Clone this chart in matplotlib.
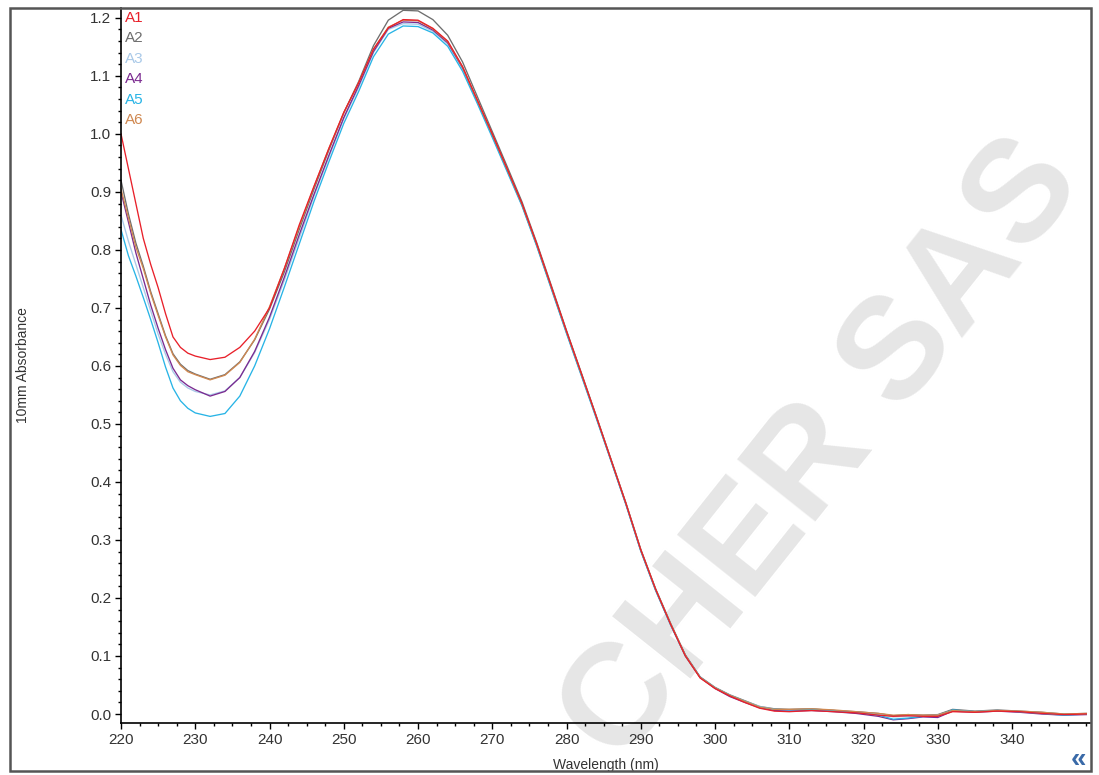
import matplotlib
matplotlib.use("Agg")
import matplotlib.pyplot as plt
from matplotlib.ticker import MultipleLocator, FormatStrFormatter
from matplotlib.patches import Rectangle

plt.rcParams['font.family'] = ['Liberation Sans Narrow', 'Liberation Sans', 'DejaVu Sans']

# wavelength grid (nm)
wavelength = [220, 221, 222, 223, 224, 225, 226, 227, 228, 229, 230,
              232, 234, 236, 238, 240, 242, 244, 246, 248, 250, 252, 254, 256, 258,
              260, 262, 264, 266, 268, 270, 272, 274, 276, 278, 280, 282, 284, 286,
              288, 290, 292, 294, 296, 298, 300, 302, 304, 306, 308, 310,
              313, 316, 319, 322, 324, 326, 328, 330, 332, 335, 338, 341, 344, 347, 350]

a1 = [1.000, 0.940, 0.880, 0.820, 0.775, 0.735, 0.690, 0.650, 0.632, 0.622, 0.617,
      0.611, 0.615, 0.632, 0.660, 0.700, 0.768, 0.843, 0.910, 0.975, 1.037, 1.088, 1.146, 1.183, 1.197,
      1.196, 1.182, 1.160, 1.116, 1.058, 1.000, 0.940, 0.880, 0.810, 0.735, 0.660, 0.587, 0.513, 0.438,
      0.363, 0.283, 0.215, 0.155, 0.100, 0.062, 0.044, 0.031, 0.020, 0.010, 0.005, 0.004,
      0.006, 0.004, 0.002, -0.002, -0.004, -0.003, -0.004, -0.004, 0.004, 0.003, 0.005, 0.004, 0.001, -0.001, 0.000]

a2 = [0.920, 0.862, 0.812, 0.772, 0.728, 0.690, 0.652, 0.621, 0.603, 0.592, 0.586,
      0.577, 0.585, 0.607, 0.645, 0.698, 0.762, 0.835, 0.905, 0.972, 1.036, 1.090, 1.152, 1.196, 1.213,
      1.212, 1.197, 1.170, 1.124, 1.064, 1.004, 0.944, 0.883, 0.812, 0.737, 0.661, 0.588, 0.514, 0.439,
      0.364, 0.284, 0.216, 0.157, 0.102, 0.064, 0.046, 0.033, 0.023, 0.013, 0.009, 0.008,
      0.009, 0.006, 0.004, 0.001, -0.003, -0.001, -0.002, -0.001, 0.008, 0.005, 0.007, 0.005, 0.003, 0.000, 0.001]

a3 = [0.860, 0.815, 0.775, 0.735, 0.695, 0.655, 0.620, 0.590, 0.572, 0.562, 0.556,
      0.550, 0.557, 0.580, 0.623, 0.680, 0.748, 0.820, 0.893, 0.960, 1.026, 1.080, 1.140, 1.180, 1.190,
      1.189, 1.177, 1.155, 1.112, 1.054, 0.996, 0.937, 0.877, 0.807, 0.732, 0.657, 0.584, 0.511, 0.436,
      0.361, 0.281, 0.213, 0.154, 0.100, 0.063, 0.045, 0.032, 0.022, 0.013, 0.008, 0.007,
      0.008, 0.006, 0.003, 0.000, -0.005, -0.004, -0.003, -0.002, 0.006, 0.004, 0.006, 0.004, 0.002, -0.001, 0.000]

a4 = [0.900, 0.848, 0.795, 0.750, 0.705, 0.665, 0.628, 0.596, 0.576, 0.566, 0.559,
      0.548, 0.556, 0.580, 0.625, 0.684, 0.753, 0.826, 0.896, 0.963, 1.028, 1.083, 1.142, 1.182, 1.193,
      1.192, 1.179, 1.157, 1.114, 1.056, 0.998, 0.938, 0.878, 0.808, 0.733, 0.658, 0.585, 0.512, 0.437,
      0.362, 0.282, 0.214, 0.155, 0.101, 0.063, 0.044, 0.030, 0.020, 0.011, 0.006, 0.005,
      0.006, 0.004, 0.001, -0.004, -0.010, -0.008, -0.005, -0.006, 0.005, 0.003, 0.005, 0.003, 0.000, -0.002, -0.001]

a5 = [0.835, 0.790, 0.755, 0.718, 0.680, 0.640, 0.598, 0.562, 0.540, 0.527, 0.519,
      0.513, 0.518, 0.548, 0.600, 0.664, 0.736, 0.810, 0.884, 0.952, 1.018, 1.073, 1.133, 1.172, 1.186,
      1.185, 1.174, 1.151, 1.108, 1.052, 0.994, 0.935, 0.876, 0.806, 0.731, 0.656, 0.583, 0.510, 0.436,
      0.361, 0.281, 0.213, 0.154, 0.100, 0.063, 0.045, 0.032, 0.022, 0.012, 0.008, 0.007,
      0.008, 0.006, 0.003, -0.002, -0.009, -0.007, -0.004, -0.004, 0.007, 0.004, 0.006, 0.004, 0.001, -0.002, 0.000]

a6 = [0.905, 0.855, 0.805, 0.768, 0.725, 0.687, 0.650, 0.619, 0.601, 0.590, 0.585,
      0.576, 0.584, 0.606, 0.646, 0.702, 0.768, 0.840, 0.909, 0.975, 1.036, 1.088, 1.146, 1.184, 1.196,
      1.195, 1.181, 1.159, 1.115, 1.057, 0.999, 0.939, 0.879, 0.809, 0.734, 0.659, 0.586, 0.513, 0.438,
      0.363, 0.283, 0.215, 0.156, 0.101, 0.063, 0.045, 0.032, 0.022, 0.012, 0.008, 0.008,
      0.009, 0.007, 0.004, 0.001, -0.002, -0.001, -0.002, -0.002, 0.006, 0.004, 0.006, 0.005, 0.003, 0.000, 0.001]

names = ["A1", "A2", "A3", "A4", "A5", "A6"]
series = [a1, a2, a3, a4, a5, a6]
colors = ["#e8202a", "#6e6e6e", "#a9c9e8", "#7b2a90", "#28b4e6", "#d08850"]
xtick_values = [220, 230, 240, 250, 260, 270, 280, 290, 300, 310, 320, 330, 340]

W, H = 1099, 775
fig = plt.figure(figsize=(W / 100, H / 100), dpi=100, facecolor='white')
ax = fig.add_axes([121 / W, 1 - 723 / H, (1090 - 121) / W, (723 - 8) / H])
ax.patch.set_alpha(0)

# outer window frame
frame = Rectangle((10 / W, 4 / H), (1091 - 10) / W, (771 - 8) / H, transform=fig.transFigure,
                  fill=False, edgecolor='#555555', lw=1.8, zorder=5)
fig.patches.append(frame)

# watermark behind everything
wm = fig.text(823 / W, 1 - 452 / H, "CHER SAS", rotation=51.5, fontsize=104, fontweight='bold',
              family='Liberation Sans', color='#e6e6e6', ha='center', va='center',
              rotation_mode='anchor', zorder=-1)
wm.set_clip_path(frame)

# draw order: red on top
for i in [1, 2, 3, 4, 5, 0]:
    ax.plot(wavelength, series[i], color=colors[i], lw=0.95)

for i, name in enumerate(names):
    ax.text(0.004, (723 - 18 - i * 20.4) / 715, name, transform=ax.transAxes,
            color=colors[i], fontsize=11, ha='left', va='center')

ax.set_xlim(220, 350.5)
ax.set_ylim(-0.0155, 1.217)
ax.set_xticks(xtick_values)
ax.xaxis.set_minor_locator(MultipleLocator(2.5))
ax.yaxis.set_major_locator(MultipleLocator(0.1))
ax.yaxis.set_minor_locator(MultipleLocator(0.02))
ax.yaxis.set_major_formatter(FormatStrFormatter('%.1f'))
ax.tick_params(which='major', direction='out', length=4, width=1, labelsize=11, colors='black',
               labelcolor='#333333', pad=3)
ax.tick_params(which='minor', direction='out', length=2, width=1)
for s in ['top', 'right']:
    ax.spines[s].set_visible(False)
for s in ['left', 'bottom']:
    ax.spines[s].set_linewidth(1.2)

ax.set_xlabel("Wavelength (nm)", fontsize=10, color='#333333', labelpad=8)
ax.set_ylabel("10mm Absorbance", fontsize=10, color='#333333', labelpad=43)

fig.text(1078 / W, 1 - 760 / H, "\u00ab", color='#3a6aa8', fontsize=20, fontweight='bold',
         ha='center', va='center')

fig.savefig("out.png", dpi=100)
